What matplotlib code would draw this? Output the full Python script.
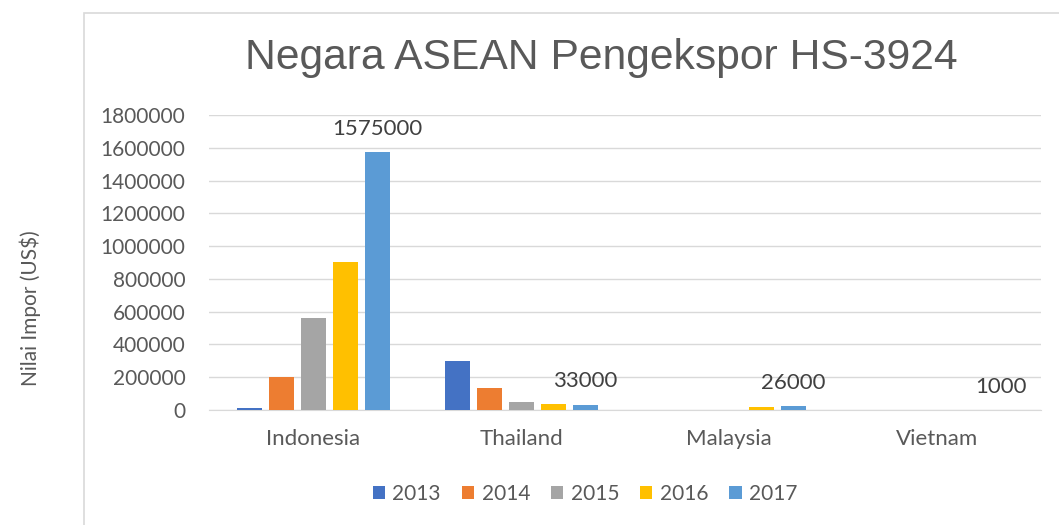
import numpy as np
import matplotlib
matplotlib.use("Agg")
import matplotlib.pyplot as plt
from matplotlib.patches import Rectangle

countries = ["Indonesia", "Thailand", "Malaysia", "Vietnam"]
years = ["2013", "2014", "2015", "2016", "2017"]
v2013 = [15000, 300000, 0, 0]
v2014 = [200000, 133000, 0, 3000]
v2015 = [560000, 48000, 2000, 2000]
v2016 = [905000, 37000, 20000, 0]
v2017 = [1575000, 33000, 26000, 1000]
colors = ["#4472C4", "#ED7D31", "#A5A5A5", "#FFC000", "#5B9BD5"]

series = [v2013, v2014, v2015, v2016, v2017]
text_color = "#595959"

fig = plt.figure(figsize=(10.59, 5.25), dpi=100)
# chart frame like the office chart area
fig.patches.append(Rectangle((84 / 1059, -0.05), 1.0, 1 - 13 / 525 + 0.05,
                             transform=fig.transFigure, fill=False,
                             edgecolor="#d9d9d9", linewidth=1.2))

ax = fig.add_axes([209 / 1059, 1 - 410 / 525, (1041 - 209) / 1059, (410 - 115) / 525])
x = np.arange(len(countries))
step = 32 / 208
width = 25 / 208
for i, (vals, c, yr) in enumerate(zip(series, colors, years)):
    pos = x + (i - 2) * step
    ax.bar(pos, vals, width, color=c, label=yr, zorder=3)
    if yr == "2017":
        for p, v in zip(pos, vals):
            ax.text(p, v + 80000, str(v), ha="center", va="bottom",
                    fontsize=16, color="#404040", family="Lato")

ax.set_ylim(0, 1800000)
ax.set_xlim(-0.5, 3.5)
ax.set_yticks(np.arange(0, 1800001, 200000))
ax.set_yticklabels([str(t) for t in range(0, 1800001, 200000)])
ax.set_xticks(x)
ax.set_xticklabels(countries)
ax.grid(axis="y", color="#d9d9d9", linewidth=1, zorder=0)
for s in ["top", "right", "left"]:
    ax.spines[s].set_visible(False)
ax.spines["bottom"].set_color("#d9d9d9")
ax.tick_params(axis="both", length=0, labelsize=15, labelcolor=text_color)
ax.tick_params(axis="y", pad=17)
ax.tick_params(axis="x", pad=14)
for lab in ax.get_xticklabels():
    lab.set_fontsize(16)
for lab in ax.get_xticklabels() + ax.get_yticklabels():
    lab.set_family("Lato")

fig.text(601 / 1059, 1 - 58 / 525, "Negara ASEAN Pengekspor HS-3924", ha="center",
         va="center", fontsize=30.7, color=text_color, family="Liberation Sans")
fig.text(30 / 1059, 1 - 308 / 525, "Nilai Impor (US$)", rotation=90, ha="center",
         va="center", fontsize=15, color=text_color, family="Lato")

leg = fig.legend(loc="center", bbox_to_anchor=(585 / 1059, 1 - 494 / 525), ncol=5,
                 frameon=False, handlelength=0.6, handleheight=0.6,
                 handletextpad=0.35, columnspacing=1.0,
                 prop={"family": "Lato", "size": 15})
for t in leg.get_texts():
    t.set_color(text_color)

fig.savefig("out.png", dpi=100)
